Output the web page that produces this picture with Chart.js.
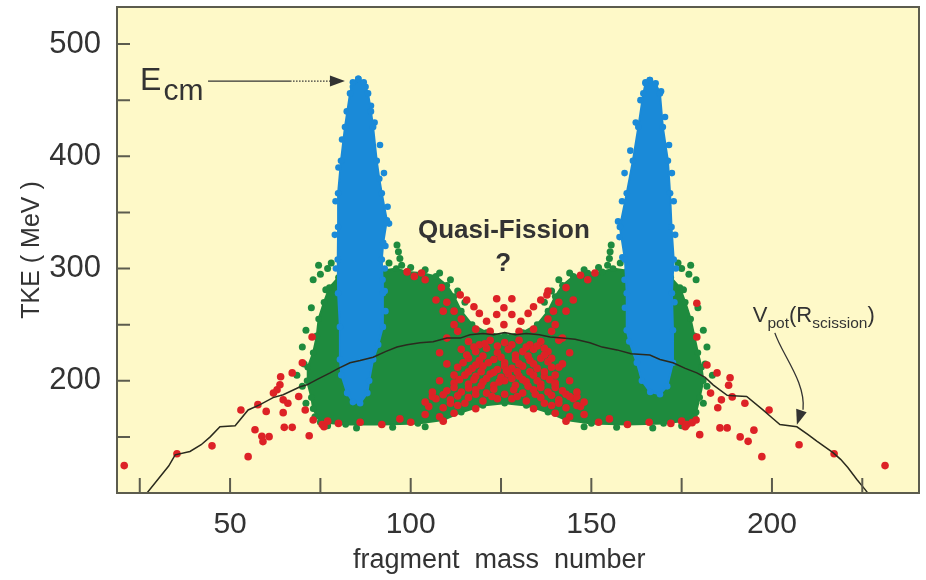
<!DOCTYPE html>
<html><head><meta charset="utf-8">
<script src="https://cdn.jsdelivr.net/npm/chart.js@4/dist/chart.umd.min.js"></script>
<style>html,body{margin:0;padding:0;background:#fff;}canvas{display:block;}</style>
</head><body>
<canvas id="c" width="926" height="580"></canvas>
<script>
// ---------- data ----------
const xRange = [18.7, 240.7];
const yRange = [100, 533];
const xTickLabels = [50, 100, 150, 200];
const yTickLabels = [200, 300, 400, 500];
const xTickMarks = [25, 50, 75, 100, 125, 150, 175, 200, 225];
const yTickMarks = [150, 200, 250, 300, 350, 400, 450, 500];
const xTitle = 'fragment  mass  number';
const yTitle = 'TKE ( MeV )';

// V_pot(R_scission) curve
const vpotCurve = [[27,100],[30,112],[33,124],[34.8,134],[38.9,137],[42,143],[44.5,150],[47.2,159],[51.4,160],[55,174],[58.3,178.7],[61.9,185],[64.7,187.6],[69.4,194.7],[71.3,196.4],[74,201],[77.7,207],[80,211],[83.2,216],[86,218],[89.6,221],[93,226],[96.2,230],[99,232],[102.6,233.8],[106.2,234.7],[110,238],[113.7,238],[116.4,241],[120,242],[123,241],[126,243],[129,241],[132,242],[135.6,241],[138.6,239],[142,238],[145.5,237],[149.6,233.8],[153,230],[157.1,227.5],[161,224],[166.2,223],[169,219],[172.6,216],[176,211],[179.2,207],[181.5,203],[183.7,196.4],[187.6,187],[189.2,186.7],[193,186],[197.5,174],[200,167],[202.2,161],[206.9,159],[210,152],[212.5,146],[216.9,136],[219,130],[221,122.7],[223.5,112],[225.8,103],[226.5,100]];

// blue peaks: outlines of the dense clouds
const blueLeftPeak = [[85.5,469],[87,466],[88.2,456],[89,440],[89.6,426],[90.6,396],[91.3,380],[92,367],[93.4,343],[92.4,323],[92,308],[92.2,290],[92.3,278],[92.3,248],[91,232],[89.6,219],[88.5,200],[88,189],[86,180],[84,181],[82.4,189],[80.8,205],[80.4,219],[80.4,248],[79.9,278],[79.8,308],[79.9,337],[79.9,367],[80.7,396],[81.8,426],[83.2,456],[84,466],[85.5,469]];
const blueRightPeak = [[166.2,468],[167.8,465],[169,456],[169.8,426],[171.2,396],[171.8,367],[172.2,337],[172.8,308],[172.3,278],[172.6,245],[172.6,216],[171,195],[169,188],[166.3,190],[164,200],[162.6,216],[160.5,235],[159.8,245],[159.8,278],[159.3,308],[157.9,337],[159.8,367],[161.5,396],[163,426],[164.4,456],[165,465],[166.2,468]];
const blueDots = [[79.3,300],[79,330],[79.2,360],[80,390],[81,415],[82.3,440],[84,462],[87.5,462],[89,445],[90,430],[91.5,410],[92.6,385],[93.6,355],[94,340],[93,320],[92.8,300],[92.8,280],[93,262],[165,466],[163.6,450],[162.3,430],[160.8,405],[159.2,385],[158.5,360],[157.4,342],[157.8,328],[158.6,310],[159.2,290],[159.3,265],[169.3,458],[170.4,435],[171.5,410],[172.3,385],[172.8,360],[173.2,330],[173.4,300],[173,270]];

// green cloud outline and scattered green points
const greenRegion = [[75,163],[73,175],[72.5,185],[71.3,200],[71.5,212],[73,225],[74,240],[74.5,255],[76,270],[77.5,283],[80,292],[86,296],[92,298],[96,300],[99,297],[103,296],[107,293],[110,285],[112,275],[114,262],[117,250],[121,243],[126,240],[131,243],[135,250],[138,262],[140,275],[142,285],[145,293],[149,296],[153,297],[156,300],[160,298],[166,296],[172,292],[174.5,283],[176,270],[177.5,255],[178.5,240],[179.5,225],[180.5,212],[181,200],[180,185],[179,172],[177.5,165],[170,162],[160,161],[150,162],[143,165],[138,172],[132,178],[126,180],[120,178],[114,172],[109,165],[102,162],[92,161],[82,161],[75,163]];
const greenDots = [[73,290],[75,295],[77,300],[76.5,281],[72.5,265],[71,245],[70,230],[70.5,215],[70,195],[71,180],[73.5,168],[77,160],[85,158],[95,158.5],[104,159],[96.2,321],[96.6,315],[97,309],[97.5,303],[100,301],[104,299],[108,296],[111,290],[94,305],[78,305],[74.5,303],[179,290],[177,295],[175,300],[175.5,281],[179.5,265],[181,245],[182,230],[181.5,215],[182,195],[181,180],[178.5,168],[175,160],[167,158],[157,158.5],[148,159],[155.5,321],[155.2,315],[155,309],[154.5,303],[152,301],[148,299],[144,296],[141,290],[158,305],[174,305],[177.5,303],[113,280],[139,280],[115,270],[137,270],[68.5,205],[183.5,205]];

// red (quasi-fission) points
const redDots = [
 [20.7,124.4],[35.3,135],[45,142],[55,132.4],[56.9,156.4],[58.8,150.5],[59.1,145.8],[60.8,150.2],[53,174],[57.7,178.7],[60,172.7],[64.7,171.6],[65,158.5],[67.2,158.5],[63,192],[63.8,196.4],[64,203.6],[67.2,207],[70,216],[71.9,151],[72.7,239],[64.7,183],[70.8,174],[62,189],[66,180],[69,186],
 [231.3,124.4],[217.2,135],[207.5,143],[197.2,132.4],[199.2,174],[195,156],[193.4,146],[191.2,150],[192.5,180],[189,185.6],[188,196],[188.4,202.7],[184.8,207],[182,214],[180,152],[187.6,158],[185.6,158],[177.9,162.7],[179.2,269],[179.2,239],[185,176],[183,189],[186,183],
 [99,297],[101,293],[104,290],[103,296],[108.5,283],[113.7,276.5],[115.5,272],[117.5,266],[119,260],[121,253],[123.8,273],[128,273],[123.8,259],[128,259],[125.8,250],[125.8,265],[137.7,276.5],[136,272],[134,266],[132.5,260],[130.5,253],[143,283],[147,294],[149,290],[151,296],[110,270],[112,262],[141,270],[139.5,262],[114,255],[138,255],[118,246],[134,246],[122,244],[130,244],
 [116,235],[119,232],[122,236],[126,234],[130,236],[133,232],[136,235],
 [114,228],[118,226],[121,229],[124,225],[127,228],[131,226],[134,228],[138,226],
 [116,220],[119,218],[123,219],[126,216],[129,219],[133,218],[136,220],
 [113,212],[117,211],[120,213],[124,210],[128,211],[131,213],[135,211],[139,212],
 [115,205],[118,204],[122,206],[125,203],[127,206],[130,204],[134,205],[137,204],
 [112,198],[116,197],[120,199],[123,196],[126,200],[129,196],[132,199],[136,197],[140,198],
 [110,191],[114,190],[118,192],[121,189],[126,188],[131,189],[134,192],[138,190],[142,191],
 [107,184],[111,183],[116,185],[120,182],[124,184],[128,184],[132,182],[136,185],[141,183],[145,184],
 [105,177],[109,176],[113,178],[118,175],[134,175],[139,178],[143,176],[147,177],
 [104,170],[108,168],[112,171],[140,171],[144,168],[148,170],[109,164],[143,164],[106,186],[146,186],
 [117.5,230],[120.5,233],[124,231],[128,232],[132,230],[135,231],
 [115.5,223],[120,222],[125,221],[129,223],[132.5,222],[137,223],
 [114.5,216],[118,214],[121.5,216],[126,213],[130,215],[134,215],[138,217],
 [116,208],[119.5,208],[123,207.5],[126.5,209],[129.5,208],[133,208],[137,208],
 [113.5,201],[117.5,201],[121,202],[124.5,199],[128,202],[131,201],[135,200],[138.5,201],
 [112,194],[116,193.5],[119.5,195.5],[123,192.5],[128.5,192],[132.5,195],[136,194],[140,194],
 [109,187.5],[113,186.5],[118,188],[122.5,186],[129.5,186],[134.5,188],[139,187],[143,188],
 [111,180],[115,180],[137,180],[141,180],
 [107,272],[109,262],[112,250],[113,244],[110,238],[108,225],[110,215],[112,205],[108,200],[106,190],[104,181],[73,165],[75.5,161],[77,164],[76,159],[80,162],[86,163],[92,161],[97,166],[100,163],
 [145,272],[143,262],[140,250],[139,244],[142,238],[144,225],[142,215],[140,205],[144,200],[146,190],[148,181],[179,165],[176.5,161],[175,164],[176,159],[172,162],[166,163],[160,161],[155,166],[152,163],[138,280],[141,236],[137,229],[139,220],[141,212],[140,197],[144,186],[146,178]
];

// ---------- styling ----------
const BG = '#FEF9C8', FRAME = '#5c5c4e', TXT = '#333333';
const BLUE = '#1A8AD8', GREEN = '#1E8B3E', RED = '#DD2226', LINE = '#2a2a1e';
const FONT = "'Liberation Sans', Arial, Helvetica, sans-serif";

const pts = a => a.map(p => ({x: p[0], y: p[1]}));

function head(ctx, tx, ty, fx, fy, len, hw) {
  let dx = tx - fx, dy = ty - fy; const d = Math.hypot(dx, dy) || 1; dx /= d; dy /= d;
  const bx = tx - dx * len, by = ty - dy * len;
  ctx.beginPath(); ctx.moveTo(tx, ty);
  ctx.lineTo(bx - dy * hw, by + dx * hw); ctx.lineTo(bx + dy * hw, by - dx * hw);
  ctx.closePath(); ctx.fill();
}

const decor = {
  id: 'decor',
  beforeDatasetsDraw(chart) {
    const {ctx, chartArea: a} = chart;
    ctx.save(); ctx.fillStyle = BG;
    ctx.fillRect(a.left, a.top, a.right - a.left, a.bottom - a.top); ctx.restore();
  },
  afterDraw(chart) {
    const {ctx, chartArea: a, scales: {x, y}} = chart;
    const X = v => x.getPixelForValue(v), Y = v => y.getPixelForValue(v);
    ctx.save();
    ctx.strokeStyle = FRAME; ctx.lineWidth = 2;
    ctx.strokeRect(a.left, a.top, a.right - a.left, a.bottom - a.top);
    ctx.beginPath();
    xTickMarks.forEach(v => { ctx.moveTo(X(v), a.bottom); ctx.lineTo(X(v), a.bottom - 15); });
    yTickMarks.forEach(v => { ctx.moveTo(a.left, Y(v)); ctx.lineTo(a.left + 13, Y(v)); });
    ctx.stroke();

    ctx.fillStyle = TXT; ctx.strokeStyle = TXT; ctx.textBaseline = 'alphabetic';
    // E_cm label and arrow
    ctx.font = '32px ' + FONT; ctx.textAlign = 'left';
    const ex = X(25.1), ey = Y(459);
    ctx.fillText('E', ex, ey);
    const ew = ctx.measureText('E').width;
    ctx.font = '30px ' + FONT; ctx.fillText('cm', ex + ew + 2, ey + 10);
    const ay = Y(467);
    ctx.lineWidth = 1.3;
    ctx.beginPath(); ctx.moveTo(X(43.9), ay); ctx.lineTo(X(66.6), ay); ctx.stroke();
    ctx.setLineDash([1.5, 1.5]);
    ctx.beginPath(); ctx.moveTo(X(66.6), ay); ctx.lineTo(X(78.5), ay); ctx.stroke();
    ctx.setLineDash([]);
    head(ctx, X(81.8), ay, X(70), ay, 15, 5.5);

    // Quasi-Fission ?
    ctx.font = 'bold 26px ' + FONT; ctx.textAlign = 'center';
    ctx.fillText('Quasi-Fission', X(125.8), Y(327.3));
    ctx.fillText('?', X(125.6), Y(298));

    // V_pot(R_scission)
    ctx.textAlign = 'left';
    let vx = X(194.7); const vy = Y(252.5);
    const runs = [['V', 22, 0], ['pot', 15.5, 6], ['(R', 22, 0], ['scission', 15.5, 6], [')', 22, 0]];
    runs.forEach(([t, s, dy]) => { ctx.font = s + 'px ' + FONT; ctx.fillText(t, vx, vy + dy); vx += ctx.measureText(t).width; });
    ctx.lineWidth = 1.3;
    ctx.beginPath();
    ctx.moveTo(X(200.8), Y(242.7));
    ctx.bezierCurveTo(X(202.8), Y(223.1), X(209.4), Y(199.1), X(208.6), Y(174.2));
    ctx.stroke();
    head(ctx, X(206.9), Y(160.8), X(208.6), Y(178), 15, 5.5);
    ctx.restore();
  }
};

const fitY = s => { s.width = 117; s.paddingTop = 0; s.paddingBottom = 0; s.paddingLeft = 0; s.paddingRight = 0; };
const fitX = s => { s.height = 87; s.paddingTop = 0; s.paddingBottom = 0; s.paddingLeft = 0; s.paddingRight = 0; };

new Chart(document.getElementById('c'), {
  type: 'scatter',
  data: {
    datasets: [
      {label: 'Vpot(Rscission)', data: pts(vpotCurve), showLine: true, borderColor: LINE, borderWidth: 1.5, pointRadius: 0, fill: false},
      {label: 'blue left', data: pts(blueLeftPeak), showLine: true, fill: 'shape', backgroundColor: BLUE, borderColor: BLUE, borderWidth: 2, pointRadius: 3.3, pointBackgroundColor: BLUE, pointBorderWidth: 0},
      {label: 'blue right', data: pts(blueRightPeak), showLine: true, fill: 'shape', backgroundColor: BLUE, borderColor: BLUE, borderWidth: 2, pointRadius: 3.3, pointBackgroundColor: BLUE, pointBorderWidth: 0},
      {label: 'blue dots', data: pts(blueDots), pointRadius: 3.3, pointBackgroundColor: BLUE, pointBorderWidth: 0},
      {label: 'red', data: pts(redDots), pointRadius: 3.8, pointBackgroundColor: RED, pointBorderWidth: 0},
      {label: 'green dots', data: pts(greenDots), pointRadius: 3.5, pointBackgroundColor: GREEN, pointBorderWidth: 0},
      {label: 'green', data: pts(greenRegion), showLine: true, fill: 'shape', backgroundColor: GREEN, borderColor: GREEN, borderWidth: 2, pointRadius: 3.3, pointBackgroundColor: GREEN, pointBorderWidth: 0}
    ]
  },
  options: {
    responsive: false, animation: false, events: [],
    layout: {padding: {left: 0, top: 7, right: 7, bottom: 0}},
    plugins: {legend: {display: false}, tooltip: {enabled: false}},
    scales: {
      x: {
        type: 'linear', min: xRange[0], max: xRange[1],
        grid: {display: false}, border: {display: false},
        afterBuildTicks: s => { s.ticks = xTickLabels.map(v => ({value: v})); },
        ticks: {font: {size: 30, family: FONT}, color: TXT, padding: 6, maxRotation: 0},
        title: {display: true, text: xTitle + '     ', font: {size: 27, family: FONT}, color: TXT, padding: {top: 0, bottom: 3}},
        afterFit: fitX
      },
      y: {
        type: 'linear', min: yRange[0], max: yRange[1],
        grid: {display: false}, border: {display: false},
        afterBuildTicks: s => { s.ticks = yTickLabels.map(v => ({value: v})); },
        ticks: {font: {size: 31, family: FONT}, color: TXT, padding: 8},
        title: {display: true, text: yTitle, font: {size: 25, family: FONT}, color: TXT, padding: {top: 17, bottom: 0}},
        afterFit: fitY
      }
    }
  },
  plugins: [decor]
});
</script>
</body></html>
